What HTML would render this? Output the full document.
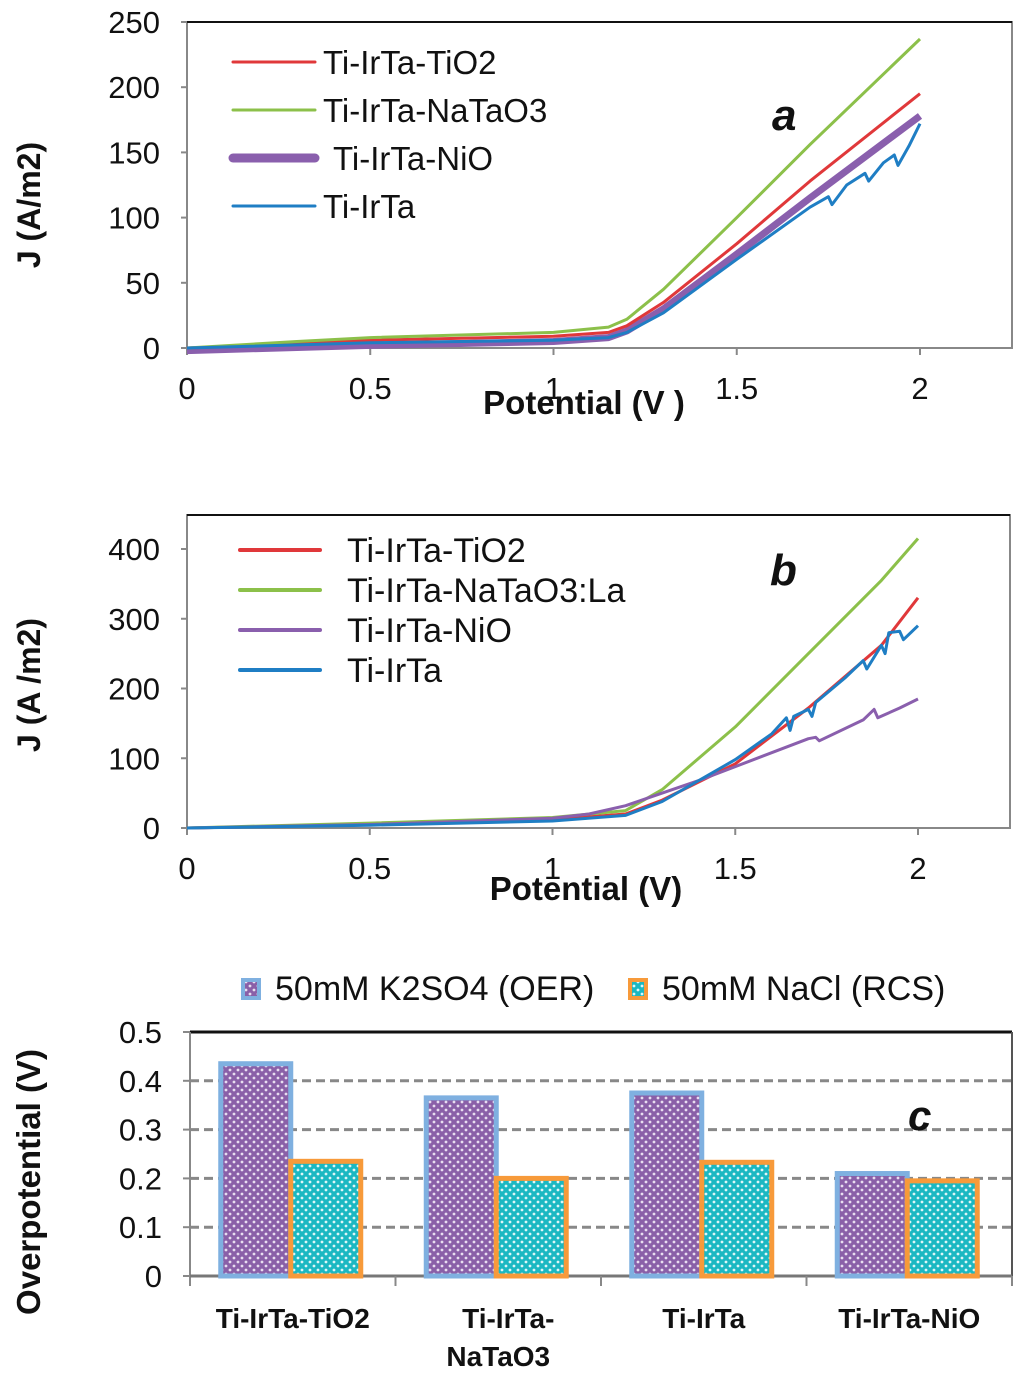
<!DOCTYPE html>
<html><head><meta charset="utf-8"><style>
body{margin:0;background:#fff;}
svg text{font-family:"Liberation Sans",sans-serif;}
</style></head><body>
<svg id="s" width="1024" height="1379" xmlns="http://www.w3.org/2000/svg">
<defs>
<pattern id="pp" width="8" height="8" patternUnits="userSpaceOnUse"><rect width="8" height="8" fill="#8a60a8"/><circle cx="2" cy="2" r="1.4" fill="#e8def0"/><circle cx="6" cy="6" r="1.4" fill="#e8def0"/></pattern>
<pattern id="pt" width="8" height="8" patternUnits="userSpaceOnUse"><rect width="8" height="8" fill="#1bb8c2"/><circle cx="2" cy="2" r="1.4" fill="#dff6f7"/><circle cx="6" cy="6" r="1.4" fill="#dff6f7"/></pattern>
</defs>
<g id="ga"></g>
<g id="gb"></g>
<g id="gc"></g>
</svg>
<script>
// Panel a data
const aX_TiO2=[0,0.3,0.5,1,1.15,1.2,1.3,1.5,1.7,2];
const aY_TiO2=[0,3,6,9,12,17,35,80,128,195];
const aX_NaTaO3=[0,0.3,0.5,1,1.15,1.2,1.3,1.5,1.7,2];
const aY_NaTaO3=[0,5,8,12,16,22,45,100,156,237];
const aX_NiO=[0,0.5,1,1.15,1.2,1.3,1.5,1.7,2];
const aY_NiO=[-2,2,5,8,13,30,72,115,178];
const aX_IrTa=[0,0.5,1,1.15,1.2,1.3,1.5,1.7,1.75,1.76,1.8,1.85,1.86,1.9,1.93,1.94,1.97,2];
const aY_IrTa=[0,4,6,8,12,27,68,108,116,110,125,134,128,142,148,140,155,172];
const aYTicks=[0,50,100,150,200,250];
const xTicks=[0,0.5,1,1.5,2];
// Panel b data
const bX_TiO2=[0,0.5,1,1.2,1.3,1.5,1.7,1.9,2];
const bY_TiO2=[0,5,12,20,40,92,172,262,330];
const bX_NaTaO3La=[0,0.5,1,1.2,1.3,1.5,1.7,1.9,2];
const bY_NaTaO3La=[0,7,15,25,55,145,250,355,415];
const bX_NiO=[0,0.5,1,1.1,1.2,1.3,1.4,1.5,1.7,1.72,1.73,1.85,1.88,1.89,1.95,2];
const bY_NiO=[0,5,14,20,32,50,68,88,128,130,125,155,170,158,172,185];
const bX_IrTa=[0,0.5,1,1.2,1.3,1.5,1.6,1.64,1.65,1.66,1.7,1.71,1.72,1.8,1.85,1.86,1.9,1.91,1.92,1.95,1.96,2];
const bY_IrTa=[0,4,10,18,38,98,135,158,140,160,170,160,180,215,240,228,262,250,280,282,270,290];
const bYTicks=[0,100,200,300,400];
// Panel c data
const cCats=["Ti-IrTa-TiO2","Ti-IrTa-NaTaO3","Ti-IrTa","Ti-IrTa-NiO"];
const cOER=[0.435,0.365,0.375,0.21];
const cRCS=[0.235,0.2,0.233,0.195];
const cYTicks=["0","0.1","0.2","0.3","0.4","0.5"];

const NS="http://www.w3.org/2000/svg";
function el(p,t,a,txt){const e=document.createElementNS(NS,t);for(const k in a)e.setAttribute(k,a[k]);if(txt!==undefined)e.textContent=txt;p.appendChild(e);return e;}

function linePanel(g,L,R,T,B,x2px,yTopVal,yTopPx,yTicks,series,legend,letter,xlabel,ylabel,legY,legDy,legFs){
  const sx=v=>L+v*(x2px-L)/2, sy=v=>B-v*(B-yTopPx)/yTopVal;
  let f=el(g,'rect',{x:L,y:T,width:R-L,height:B-T,fill:'none',stroke:'#888','stroke-width':2});
  
  let tb=el(g,'line',{x1:L,y1:T,x2:R,y2:T,stroke:'#111','stroke-width':2});
  
  yTicks.forEach(v=>{let t=el(g,'text',{x:L-27,y:sy(v)+11,'text-anchor':'end','font-size':31,fill:'#111'},String(v));
    
    el(g,'line',{x1:L-6,y1:sy(v),x2:L,y2:sy(v),stroke:'#888','stroke-width':2});});
  xTicks.forEach(v=>{let t=el(g,'text',{x:sx(v),y:B+51,'text-anchor':'middle','font-size':31,fill:'#111'},String(v));
    
    el(g,'line',{x1:sx(v),y1:B,x2:sx(v),y2:B+7,stroke:'#888','stroke-width':2});});
  series.forEach(s=>{let d=s.x.map((v,i)=>(i?'L':'M')+sx(v).toFixed(1)+','+sy(s.y[i]).toFixed(1)).join('');
    let p=el(g,'path',{d:d,fill:'none',stroke:s.c,'stroke-width':s.w,'stroke-linejoin':'round'});
    });
  legend.forEach((s,i)=>{let y=legY+i*legDy;
    let lg=el(g,'g',{});
    el(lg,'line',{x1:s.lx1,y1:y,x2:s.lx2,y2:y,stroke:s.c,'stroke-width':s.lw,'stroke-linecap':'round'});
    el(lg,'text',{x:s.tx,y:y+12,'font-size':legFs,fill:'#111'},s.label);});
  let lt=el(g,'text',{x:letter[0],y:letter[1],'font-size':44,'font-weight':'bold','font-style':'italic',fill:'#111'},letter[2]);
  
  let xl=el(g,'text',{x:xlabel[0],y:xlabel[1],'text-anchor':'middle','font-size':33,'font-weight':'bold',fill:'#111'},xlabel[2]);
  
  let yl=el(g,'text',{x:0,y:0,'text-anchor':'middle','font-size':32,'font-weight':'bold',fill:'#111',transform:`translate(${ylabel[0]},${ylabel[1]}) rotate(-90)`},ylabel[2]);
  
}

const RED='#e0383a',GRN='#8cc04a',PUR='#8a5fad',BLU='#1f7ec4';
linePanel(document.getElementById('ga'),187,1012,22,348,920,250,22,aYTicks,
 [{n:'ti-irta-nio',x:aX_NiO,y:aY_NiO,c:PUR,w:7},{n:'ti-irta-tio2',x:aX_TiO2,y:aY_TiO2,c:RED,w:3},{n:'ti-irta-natao3',x:aX_NaTaO3,y:aY_NaTaO3,c:GRN,w:3},{n:'ti-irta',x:aX_IrTa,y:aY_IrTa,c:BLU,w:3}],
 [{c:RED,lw:3,lx1:233,lx2:315,tx:323,label:'Ti-IrTa-TiO2'},{c:GRN,lw:3,lx1:233,lx2:315,tx:323,label:'Ti-IrTa-NaTaO3'},{c:PUR,lw:9,lx1:233,lx2:315,tx:333,label:'Ti-IrTa-NiO'},{c:BLU,lw:3,lx1:233,lx2:315,tx:323,label:'Ti-IrTa'}],
 [772,130,'a'],[584,414,'Potential (V )'],[40,205,'J (A/m2)'],62,48,33);
linePanel(document.getElementById('gb'),187,1010,515,828,918,400,549,bYTicks,
 [{n:'ti-irta-tio2',x:bX_TiO2,y:bY_TiO2,c:RED,w:3},{n:'ti-irta-natao3-la',x:bX_NaTaO3La,y:bY_NaTaO3La,c:GRN,w:3},{n:'ti-irta-nio',x:bX_NiO,y:bY_NiO,c:PUR,w:3},{n:'ti-irta',x:bX_IrTa,y:bY_IrTa,c:BLU,w:3}],
 [{c:RED,lw:4,lx1:240,lx2:320,tx:347,label:'Ti-IrTa-TiO2'},{c:GRN,lw:4,lx1:240,lx2:320,tx:347,label:'Ti-IrTa-NaTaO3:La'},{c:PUR,lw:4,lx1:240,lx2:320,tx:347,label:'Ti-IrTa-NiO'},{c:BLU,lw:4,lx1:240,lx2:320,tx:347,label:'Ti-IrTa'}],
 [770,585,'b'],[586,900,'Potential (V)'],[40,685,'J (A /m2)'],550,40,34);

// Panel c
(function(){
 const g=document.getElementById('gc');
 const L=190,R=1012,T=1032,B=1276,ymax=0.5;
 const sy=v=>B-v*(B-T)/ymax, cw=(R-L)/cCats.length, bw=70;
 cYTicks.forEach(s=>{const v=parseFloat(s);
   if(v>0){let gl=el(g,'line',{x1:L,y1:sy(v),x2:R,y2:sy(v),stroke:'#888','stroke-width':3,'stroke-dasharray':'9,5'});
   }
   let t=el(g,'text',{x:L-28,y:sy(v)+11,'text-anchor':'end','font-size':31,fill:'#111'},s);
   
   el(g,'line',{x1:L-7,y1:sy(v),x2:L,y2:sy(v),stroke:'#888','stroke-width':2});});
 el(g,'line',{x1:L,y1:T,x2:R,y2:T,stroke:'#111','stroke-width':3});
 el(g,'line',{x1:R,y1:T,x2:R,y2:B,stroke:'#555','stroke-width':2});
 el(g,'line',{x1:L,y1:T,x2:L,y2:B+10,stroke:'#888','stroke-width':2});
 el(g,'line',{x1:L,y1:B,x2:R,y2:B,stroke:'#777','stroke-width':3});
 for(let i=1;i<=cCats.length;i++) el(g,'line',{x1:L+i*cw,y1:B,x2:L+i*cw,y2:B+10,stroke:'#888','stroke-width':2});
 cCats.forEach((c,i)=>{const cx=L+cw*i+cw/2;
   let b1=el(g,'rect',{x:cx-bw-2,y:sy(cOER[i]),width:bw,height:B-sy(cOER[i]),fill:'url(#pp)',stroke:'#7fb0e0','stroke-width':5});
   
   let b2=el(g,'rect',{x:cx-2,y:sy(cRCS[i]),width:bw,height:B-sy(cRCS[i]),fill:'url(#pt)',stroke:'#f79a3a','stroke-width':5});
   
   const parts=c==='Ti-IrTa-NaTaO3'?['Ti-IrTa-','NaTaO3']:[c];
   parts.forEach((p,j)=>{let t=el(g,'text',{x:cx+(parts.length>1&&j==0?10:0),y:1328+j*38,'text-anchor':'middle','font-size':28,'font-weight':'bold',fill:'#111'},p);
     });
 });
 let lt=el(g,'text',{x:908,y:1130,'font-size':42,'font-weight':'bold','font-style':'italic',fill:'#111'},'c');
 
 let yl=el(g,'text',{x:0,y:0,'text-anchor':'middle','font-size':33,'font-weight':'bold',fill:'#111',transform:'translate(40,1182) rotate(-90)'},'Overpotential (V)');
 
 let l1=el(g,'g',{});
 el(l1,'rect',{x:243,y:980,width:16,height:18,fill:'url(#pp)',stroke:'#7fb0e0','stroke-width':4});
 el(l1,'text',{x:275,y:1000,'font-size':34,fill:'#111'},'50mM K2SO4 (OER)');
 let l2=el(g,'g',{});
 el(l2,'rect',{x:630,y:980,width:16,height:18,fill:'url(#pt)',stroke:'#f79a3a','stroke-width':4});
 el(l2,'text',{x:662,y:1000,'font-size':34,fill:'#111'},'50mM NaCl (RCS)');
})();
</script>
</body></html>
